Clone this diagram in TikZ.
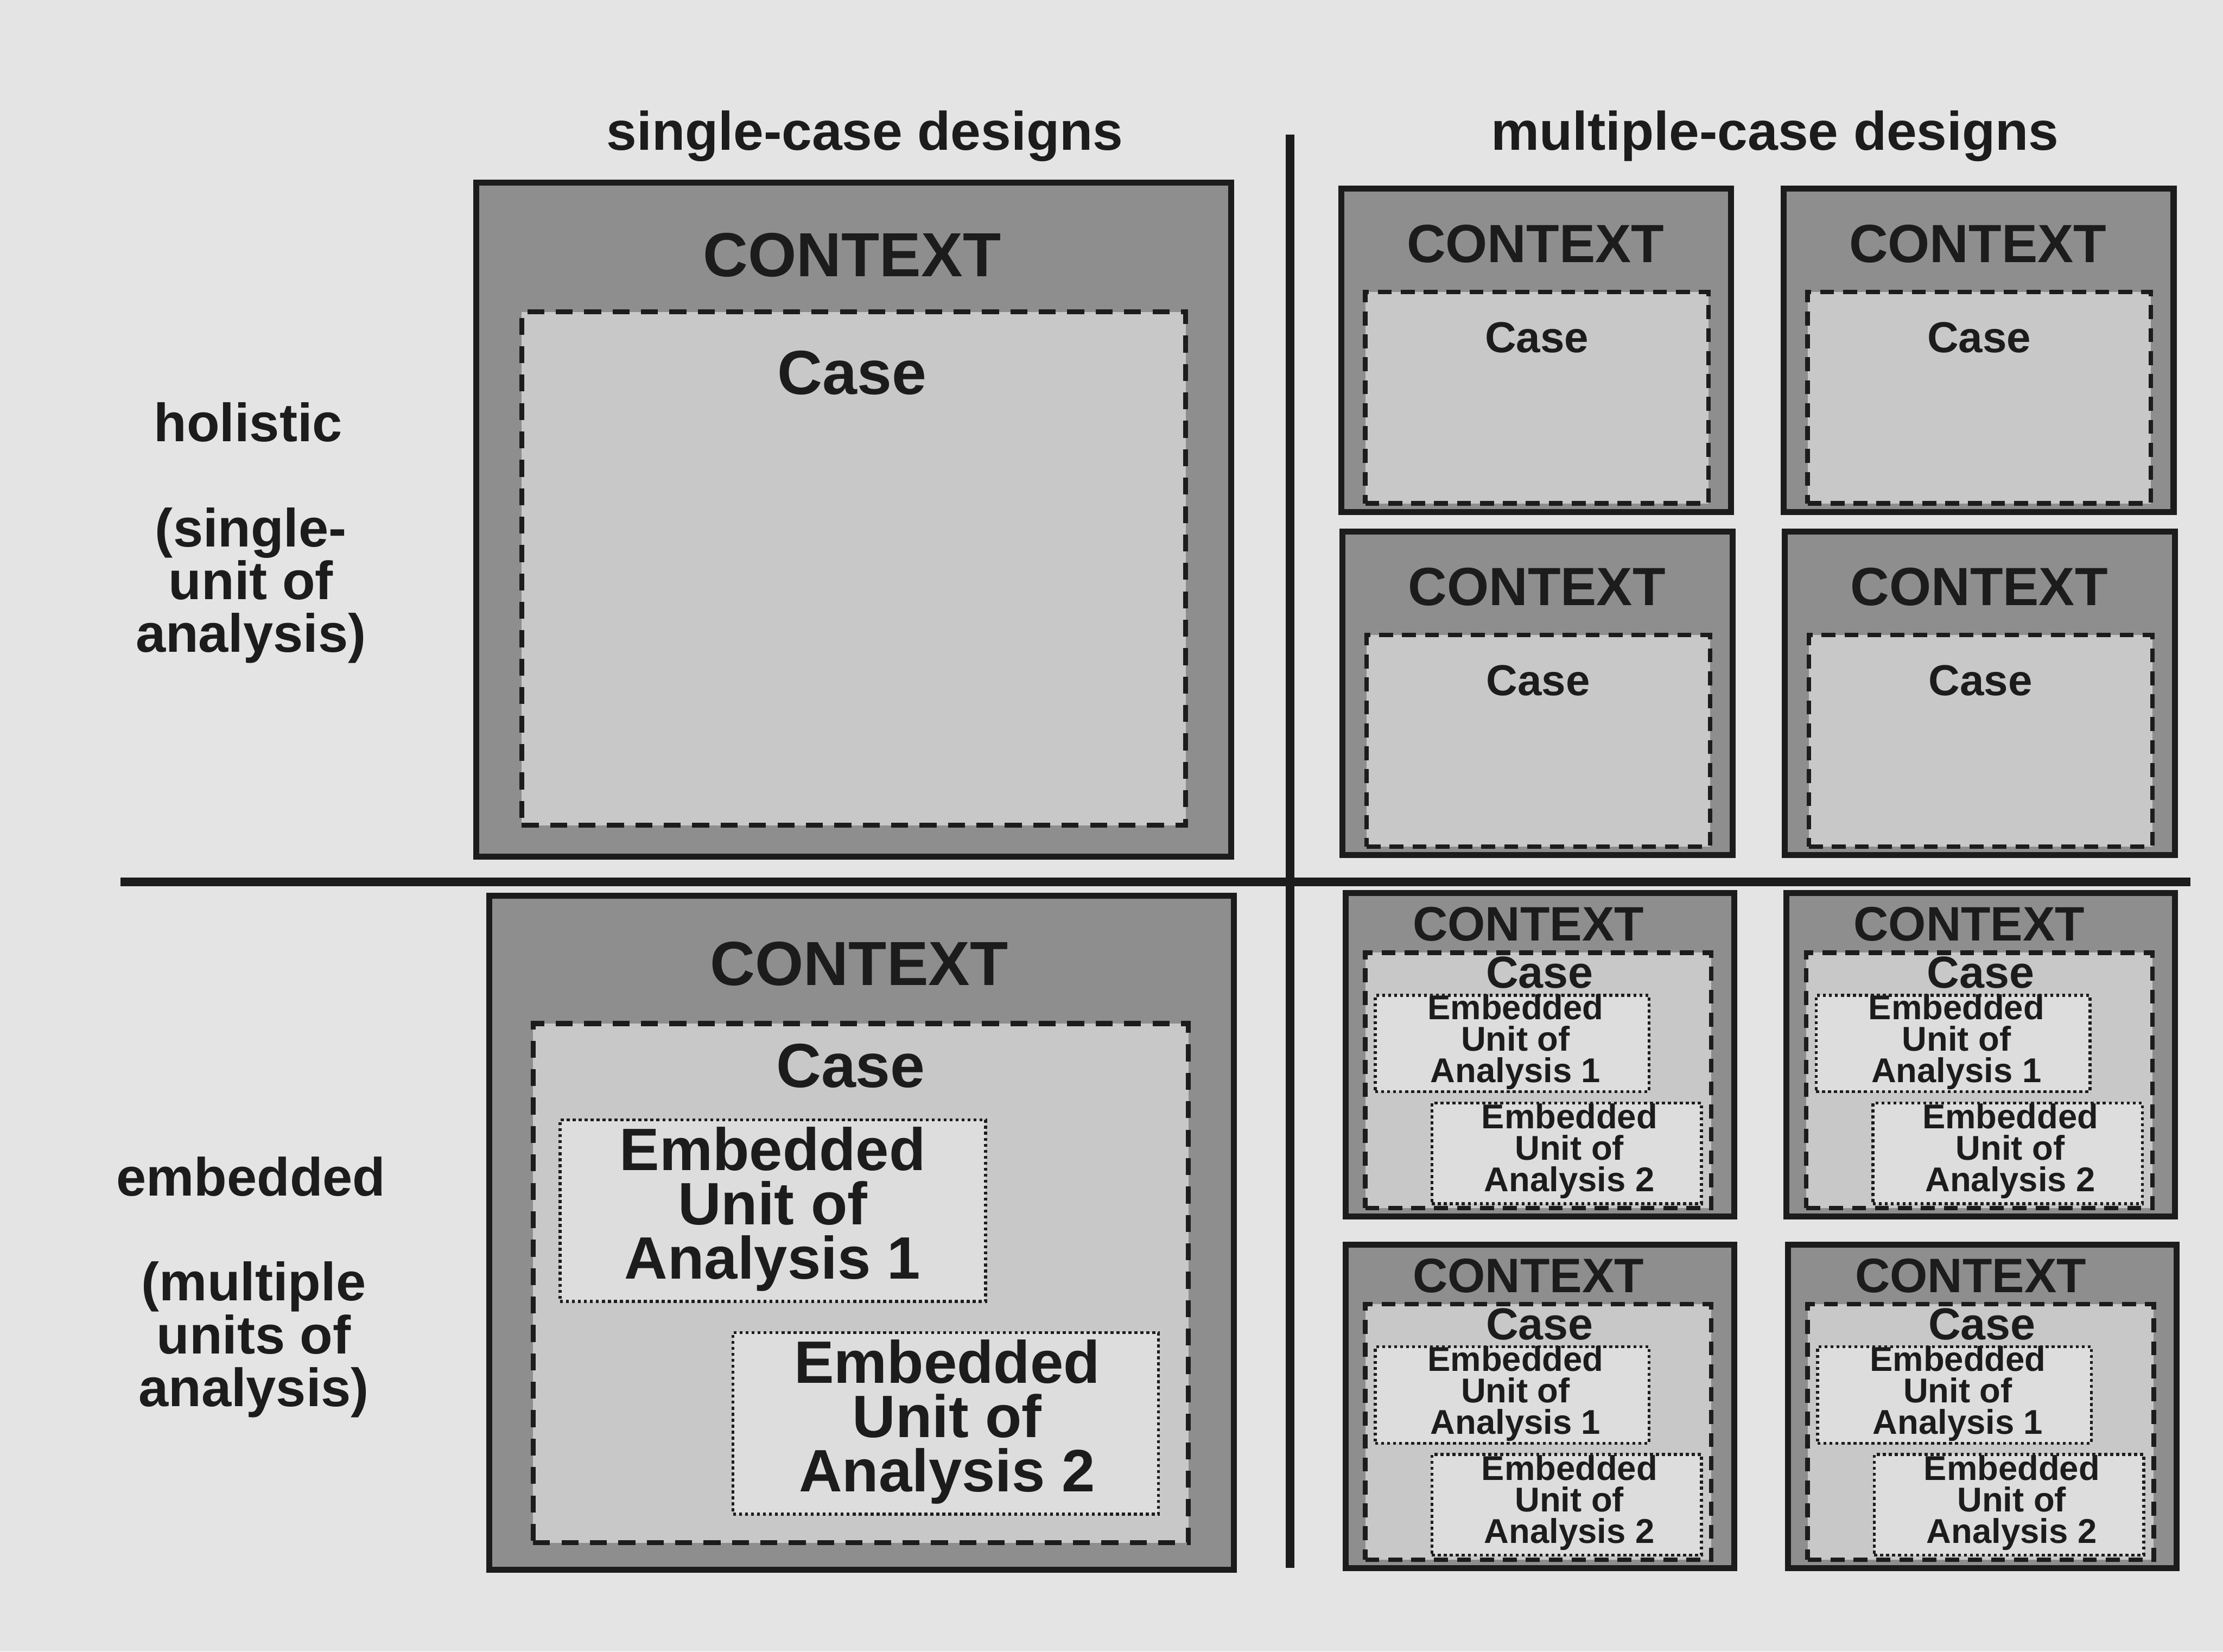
\documentclass[tikz,border=0pt]{standalone}
\usepackage{fontspec}
\setmainfont{Liberation Sans}
\usetikzlibrary{positioning}

\definecolor{paper}{HTML}{E4E4E4}
\definecolor{ctxgray}{HTML}{8E8E8E}
\definecolor{casegray}{HTML}{C8C8C8}
\definecolor{unitgray}{HTML}{DDDDDD}
\definecolor{ink}{HTML}{1C1C1C}

\begin{document}
\begin{tikzpicture}[x=0.01cm, y=-0.01cm, every node/.style={align=center, text=ink},
  ctx/.style={draw=ink, line width=1.2pt, fill=ctxgray, anchor=north west, inner sep=0pt, outer sep=0pt},
  casebox/.style={draw=ink, line width=1pt, dash pattern=on 3.4pt off 2.3pt, fill=casegray, anchor=north west, inner sep=0pt, outer sep=0pt},
  smallcase/.style={casebox, line width=0.9pt, dash pattern=on 2.8pt off 1.8pt},
  unitbox/.style={draw=ink, line width=0.6pt, dash pattern=on 0.6pt off 0.6pt, fill=unitgray, anchor=north west, inner sep=0pt, outer sep=0pt},
  heading/.style={font=\fontsize{10.9}{12}\selectfont\bfseries},
  rowlabel/.style={font=\fontsize{10.8}{10.6}\selectfont\bfseries},
  bigtxt/.style={font=\fontsize{12.5}{12}\selectfont\bfseries},
  unitbig/.style={font=\fontsize{12}{10.9}\selectfont\bfseries},
  ctxtxt/.style={font=\fontsize{10.8}{12}\selectfont\bfseries},
  casetxt/.style={font=\fontsize{8.7}{10}\selectfont\bfseries},
  ctxtxtE/.style={font=\fontsize{9.7}{11}\selectfont\bfseries},
  casetxtE/.style={font=\fontsize{9}{10}\selectfont\bfseries},
  unittxt/.style={font=\fontsize{6.9}{6.3}\selectfont\bfseries}]

\useasboundingbox (0,0) rectangle (1568,1165);
\fill[paper] (0,0) rectangle (1568,1165);

% Headings and row labels
\node (single) [heading] at (610,96) {single-case designs};
\node (multiple) [heading] at (1252,96) {multiple-case designs};
\node (holistic) [rowlabel] at (175,298) {holistic};
\node (holisticNote) [rowlabel] at (177,413) {(single-\\unit of\\analysis)};
\node (embedded) [rowlabel] at (177,830) {embedded};
\node (embeddedNote) [rowlabel] at (179,945) {(multiple\\units of\\analysis)};

% Dividers
\coordinate (vtop) at (910,95);
\coordinate (vbot) at (910,1106);
\coordinate (hleft) at (85,622);
\coordinate (hright) at (1545,622);
\draw[ink, line width=1.8pt] (vtop) -- (vbot);
\draw[ink, line width=1.8pt] (hleft) -- (hright);

% Single-case, holistic
\node (hCtx) [ctx, minimum width=5.32cm, minimum height=4.75cm] at (336,129) {};
\node (hCase) [casebox, minimum width=4.68cm, minimum height=3.62cm] at (368,220) {};
\node (hCtxTxt) [bigtxt] at (601,180) {CONTEXT};
\node (hCaseTxt) [bigtxt] at (601,263) {Case};

% Single-case, embedded
\node (eCtx) [ctx, minimum width=5.25cm, minimum height=4.75cm] at (345,632) {};
\node (eCase) [casebox, minimum width=4.62cm, minimum height=3.66cm] at (376,722) {};
\node (eUnitA) [unitbox, minimum width=3.00cm, minimum height=1.28cm] at (395,790) {};
\node (eUnitB) [unitbox, minimum width=3.00cm, minimum height=1.28cm] at (517,940) {};
\node (eCtxTxt) [bigtxt] at (606,680) {CONTEXT};
\node (eCaseTxt) [bigtxt] at (600,752) {Case};
\node (eUnitATxt) [unitbig] at (545,853) {Embedded\\Unit of\\Analysis 1};
\node (eUnitBTxt) [unitbig] at (668,1003) {Embedded\\Unit of\\Analysis 2};

% Multiple-case, holistic
\foreach \x/\y/\n in {946/133/a, 1258/133/b, 947/375/c, 1259/375/d} {
  \node (mh\n) [ctx, minimum width=2.75cm, minimum height=2.28cm] at (\x,\y) {};
  \node (mhCase\n) [smallcase, minimum width=2.42cm, minimum height=1.49cm] at ({\x+17},{\y+73}) {};
  \node (mhCtxTxt\n) [ctxtxt] at ({\x+137},{\y+39}) {CONTEXT};
  \node (mhCaseTxt\n) [casetxt] at ({\x+138},{\y+105}) {Case};
}

% Multiple-case, embedded
\foreach \x/\y/\n in {949/630/a, 1260/630/b, 949/878/c, 1261/878/d} {
  \node (me\n) [ctx, minimum width=2.74cm, minimum height=2.28cm] at (\x,\y) {};
  \node (meCase\n) [smallcase, minimum width=2.44cm, minimum height=1.80cm] at ({\x+14},{\y+42}) {};
  \node (meUnitA\n) [unitbox, minimum width=1.93cm, minimum height=0.68cm] at ({\x+21},{\y+72}) {};
  \node (meUnitB\n) [unitbox, minimum width=1.90cm, minimum height=0.71cm] at ({\x+61},{\y+148}) {};
  \node (meCtxTxt\n) [ctxtxtE] at ({\x+129},{\y+22}) {CONTEXT};
  \node (meCaseTxt\n) [casetxtE] at ({\x+137},{\y+56}) {Case};
  \node (meUnitATxt\n) [unittxt] at ({\x+120},{\y+105}) {Embedded\\Unit of\\Analysis 1};
  \node (meUnitBTxt\n) [unittxt] at ({\x+158},{\y+182}) {Embedded\\Unit of\\Analysis 2};
}

\end{tikzpicture}
\end{document}
